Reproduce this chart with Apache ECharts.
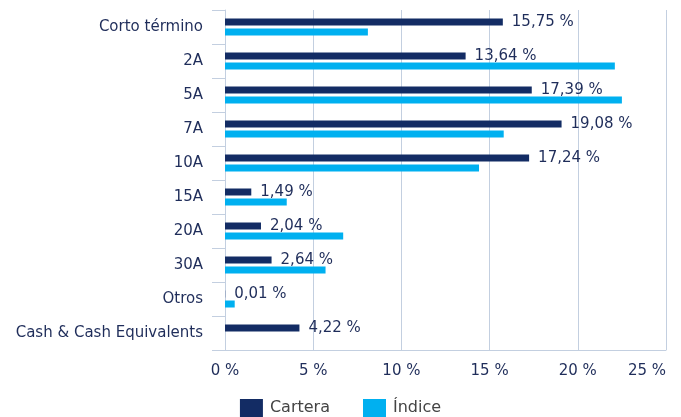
<!DOCTYPE html>
<html>
<head>
<meta charset="utf-8">
<script src="https://cdn.jsdelivr.net/npm/echarts@6/dist/echarts.min.js"></script>
<style>
  html, body { margin: 0; padding: 0; background: #fff; }
  #chart { width: 681px; height: 417px; }
</style>
</head>
<body>
<div id="chart"></div>
<script>
// categorias (de arriba a abajo)
const categories = ['Corto término', '2A', '5A', '7A', '10A', '15A', '20A', '30A', 'Otros', 'Cash & Cash Equivalents'];
// Cartera (%)
const cartera = [15.75, 13.64, 17.39, 19.08, 17.24, 1.49, 2.04, 2.64, 0.01, 4.22];
// Índice (%)
const indice = [8.1, 22.1, 22.5, 15.8, 14.4, 3.5, 6.7, 5.7, 0.55, 0];
const xTicks = [0, 5, 10, 15, 20, 25];

const navy = '#132c64';
const cyan = '#00b0f0';
const textColor = '#1f2d5a';
const lineColor = '#c3cfe0';
const font = 'DejaVu Sans';

const chart = echarts.init(document.getElementById('chart'));
const option = {
  animation: false,
  textStyle: { fontFamily: font },
  grid: { left: 225, right: 15, top: 10, bottom: 67, containLabel: false },
  legend: {
    data: ['Cartera', 'Índice'],
    bottom: -5,
    left: 'center',
    icon: 'rect',
    itemWidth: 23,
    itemHeight: 18,
    itemGap: 33,
    textStyle: { color: '#444', fontSize: 16, fontFamily: font, padding: [0, 0, 0, 2] }
  },
  xAxis: {
    type: 'value',
    min: xTicks[0],
    max: xTicks[xTicks.length - 1],
    interval: 5,
    axisLine: { show: true, lineStyle: { color: lineColor, width: 1 } },
    axisTick: { show: false },
    splitLine: { show: true, lineStyle: { color: lineColor, width: 1 } },
    axisLabel: {
      color: textColor,
      fontSize: 15,
      fontFamily: font,
      margin: 14,
      alignMaxLabel: 'right',
      formatter: v => v + ' %'
    }
  },
  yAxis: {
    type: 'category',
    data: categories,
    inverse: true,
    axisLine: { show: true, lineStyle: { color: lineColor, width: 1 } },
    axisTick: { show: true, length: 13, lineStyle: { color: lineColor } },
    axisLabel: { color: textColor, fontSize: 15, fontFamily: font, margin: 22 }
  },
  series: [
    {
      name: 'Cartera',
      type: 'bar',
      data: cartera,
      barWidth: 7,
      barGap: '43%',
      itemStyle: { color: navy },
      label: {
        show: true,
        position: 'right',
        distance: 9,
        color: textColor,
        fontSize: 15,
        fontFamily: font,
        formatter: p => p.value.toFixed(2).replace('.', ',') + ' %'
      },
      z: 3
    },
    {
      name: 'Índice',
      type: 'bar',
      data: indice,
      barWidth: 7,
      itemStyle: { color: cyan },
      z: 2
    }
  ]
};
chart.setOption(option);
</script>
</body>
</html>
